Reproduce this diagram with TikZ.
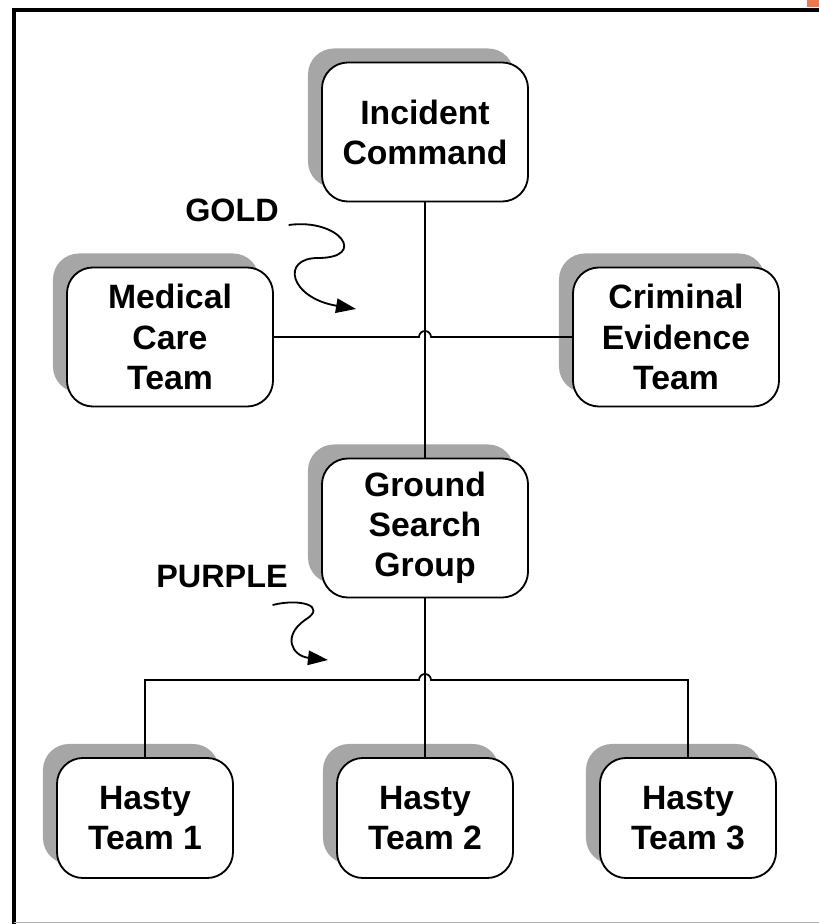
\documentclass[tikz,border=0pt]{standalone}
\usepackage{fontspec}
\setmainfont{Liberation Sans}
\usetikzlibrary{arrows.meta,calc,shadows,positioning}
\definecolor{slideorange}{RGB}{240,120,80}

\begin{document}
\begin{tikzpicture}[x=0.025cm,y=-0.025cm,>=Triangle,
  box/.style={draw,line width=1.3pt,rounded corners=0.65cm,fill=white,align=center,
    font=\bfseries\fontsize{24}{28.5}\selectfont,minimum width=5.15cm,minimum height=3.475cm,
    drop shadow={shadow xshift=-0.35cm,shadow yshift=0.35cm,fill=black!35,opacity=1,draw=none}},
  hasty/.style={box,minimum width=4.4cm,minimum height=3cm},
  link/.style={line width=1.2pt},
  tag/.style={font=\bfseries\fontsize{23}{26}\selectfont},
  wiggle/.style={->,line width=1.3pt,>={Triangle[length=0.5cm,width=0.36cm]}}]
\useasboundingbox (0,0) rectangle (819,924);
% slide frame
\draw[line width=2.8pt] (14,924) -- (14,10) -- (819,10);
\draw[black!30] (14,922) -- (819,922);
\fill[slideorange] (807,0) rectangle (819,7);
% boxes
\node[box] (ic) at (425,132) {Incident\\Command};
\node[box] (med) at (170,337) {Medical\\Care\\Team};
\node[box] (crim) at (676,337) {Criminal\\Evidence\\Team};
\node[box] (gsg) at (425,528) {Ground\\Search\\Group};
\foreach \n/\x in {1/145,2/425,3/688}
  \node[hasty] (h\n) at (\x,818) {Hasty\\Team \n};
% connectors with line jumps
\coordinate (busa) at (425,337);
\coordinate (busb) at (425,680);
\draw[link] (ic.south) -- (gsg.north);
\draw[link] (med.east) -- ([xshift=-0.15cm]busa) arc[start angle=180,end angle=0,radius=0.15cm] -- (crim.west);
\draw[link] (gsg.south) -- (h2.north);
\draw[link] (h1.north) |- ([xshift=-0.15cm]busb) arc[start angle=180,end angle=0,radius=0.15cm] -| (h3.north);
% colour tags
\node[tag] (gold) at (232,210) {GOLD};
\coordinate (goldtip) at (356,309);
\draw[wiggle] ($(gold.east)+(5,15)$) .. controls (340,218) and (368,258) .. (318,258)
  .. controls (280,258) and (290,298) .. (goldtip);
\node[tag] (purple) at (222,577) {PURPLE};
\coordinate (purpletip) at (328,660);
\draw[wiggle] ($(purple.east)+(-20,28)$) .. controls (300,598) and (328,606) .. (305,620)
  .. controls (282,636) and (292,656) .. (purpletip);
\end{tikzpicture}
\end{document}
